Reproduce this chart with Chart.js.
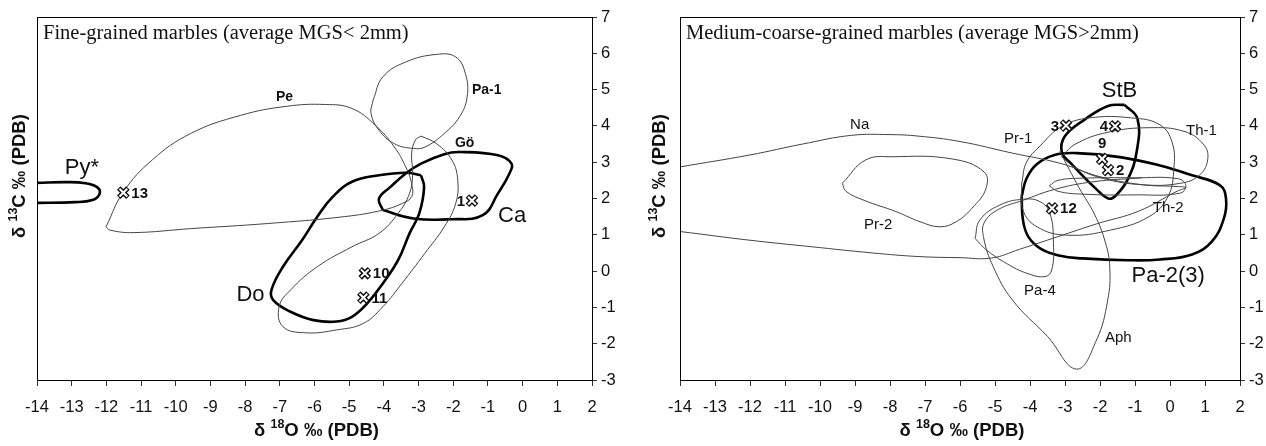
<!DOCTYPE html>
<html>
<head>
<meta charset="utf-8">
<script src="https://cdn.jsdelivr.net/npm/chart.js@4.4.1/dist/chart.umd.min.js"></script>
<style>
  html, body { margin: 0; padding: 0; background: #fff; }
  #wrap { display: flex; width: 1266px; height: 446px; }
  .panel { position: relative; width: 633px; height: 446px; }
</style>
</head>
<body>
<div id="wrap">
  <div class="panel"><canvas id="fine"></canvas></div>
  <div class="panel"><canvas id="coarse"></canvas></div>
</div>
<script>
// axis ranges (δ18O on x, δ13C on y)
const xRange = [-14, 2];
const yRange = [-3, 7];

// --- fine-grained marbles: outlines of the isotopic fields ---
const pyField = [[-14.6, 2.42], [-14, 2.43], [-13.2, 2.45], [-12.6, 2.42], [-12.25, 2.3], [-12.2, 2.12],
  [-12.4, 1.96], [-12.9, 1.9], [-14, 1.88], [-14.6, 1.88]];
const peField = [[-12.01, 1.22], [-11.51, 2.18], [-10.68, 3.06], [-9.57, 3.79], [-8.13, 4.29], [-6.8, 4.54],
  [-5.69, 4.59], [-4.92, 4.48], [-4.25, 4.02], [-3.7, 3.42], [-3.37, 2.87], [-3.2, 2.41], [-3.2, 2.05],
  [-3.48, 1.86], [-4.03, 1.68], [-5.14, 1.5], [-7.36, 1.31], [-9.57, 1.17], [-11.23, 1.06], [-11.9, 1.13]];
const pa1Field = [[-4.31, 4.71], [-4.03, 5.35], [-3.37, 5.76], [-2.48, 5.97], [-1.93, 5.9], [-1.65, 5.44],
  [-1.6, 4.8], [-1.82, 4.25], [-2.26, 3.79], [-2.81, 3.42], [-3.15, 3.38], [-3.7, 3.51], [-4.14, 3.88], [-4.37, 4.34]];
const goField = [[-2.93, 3.72], [-2.48, 3.51], [-2.04, 3.06], [-1.87, 2.5], [-1.93, 1.86], [-2.26, 1.22],
  [-2.82, 0.49], [-3.48, -0.34], [-4.03, -0.98], [-4.59, -1.44], [-5.36, -1.62], [-6.25, -1.7], [-6.91, -1.53],
  [-7.02, -0.98], [-6.69, -0.52], [-5.92, 0.12], [-4.92, 0.67], [-4.14, 1.04], [-3.59, 1.59], [-3.26, 2.14],
  [-3.17, 2.69], [-3.2, 3.24], [-3.09, 3.61]];
const caField = [[-4.03, 1.68], [-3.15, 1.45], [-2.04, 1.43], [-1.15, 1.54], [-0.71, 2.14], [-0.38, 2.69],
  [-0.32, 2.96], [-0.71, 3.19], [-1.82, 3.28], [-2.26, 3.22], [-2.93, 2.96], [-3.37, 2.69], [-3.81, 2.32], [-4.14, 2.0]];
const doField = [[-2.93, 2.64], [-2.84, 2.32], [-2.98, 1.59], [-3.26, 1.04], [-3.59, 0.3], [-4.03, -0.34],
  [-4.48, -0.89], [-4.92, -1.26], [-5.36, -1.39], [-6.03, -1.35], [-6.69, -1.12], [-7.19, -0.8], [-7.24, -0.52],
  [-6.91, 0.12], [-6.36, 0.85], [-5.92, 1.5], [-5.47, 2.05], [-4.92, 2.46], [-4.14, 2.64], [-3.37, 2.71]];

const fineSampleIds = ['13', '1', '10', '11'];
const fineSampleX = [-11.51, -1.46, -4.55, -4.59];
const fineSampleY = [2.16, 1.94, -0.06, -0.73];

// --- medium-coarse-grained marbles ---
const naField = [[-14.5, 2.78], [-14, 2.87], [-12, 3.2], [-10.5, 3.5], [-9.1, 3.74], [-8, 3.76], [-7.2, 3.72],
  [-6, 3.57], [-4.5, 3.25], [-3.14, 2.97], [-2, 2.6], [-0.8, 2.38], [0.2, 2.33], [0.45, 2.3], [0.2, 2.2],
  [-0.9, 1.65], [-2.1, 1.3], [-3.2, 0.95], [-4.3, 0.6], [-5.1, 0.36], [-6, 0.37], [-7.17, 0.4], [-8.5, 0.5],
  [-10.23, 0.67], [-12, 0.85], [-14, 1.09], [-14.5, 1.14]];
const pr2Field = [[-9.36, 2.42], [-8.7, 3.06], [-7.94, 3.15], [-6.23, 3.09], [-5.31, 2.73], [-5.26, 2.27],
  [-5.66, 1.73], [-6.11, 1.36], [-6.57, 1.22], [-7.14, 1.36], [-7.83, 1.64], [-8.74, 1.95], [-9.26, 2.2]];
const pr1Field = [[-4.24, 2.4], [-4.1, 3.0], [-3.71, 3.45], [-3.1, 3.98], [-2.3, 4.22], [-1.1, 4.22], [-0.29, 4.03],
  [0.06, 3.55], [0.11, 2.82], [-0.06, 2.05], [-0.6, 1.5], [-1.7, 1.13], [-2.95, 0.99], [-3.8, 1.22], [-4.2, 1.68]];
const th1Field = [[-3.1, 3.15], [-2.7, 3.5], [-1.8, 3.82], [-0.6, 3.95], [0.4, 3.85], [0.95, 3.5], [1.08, 3.1],
  [0.85, 2.65], [0.3, 2.42], [-0.8, 2.38], [-1.9, 2.55], [-2.7, 2.85]];
const th2Field = [[-3.45, 2.35], [-3.2, 2.5], [-2.5, 2.56], [-1, 2.57], [0.2, 2.55], [0.45, 2.38], [0.3, 2.15],
  [-1, 2.1], [-2.5, 2.12], [-3.2, 2.2]];
const pa4Field = [[-5.57, 0.9], [-5.43, 1.41], [-4.86, 1.82], [-4.19, 1.98], [-3.71, 1.91], [-3.43, 1.59],
  [-3.33, 0.77], [-3.38, 0.03], [-3.57, -0.15], [-4.09, -0.06], [-4.67, 0.21], [-5.24, 0.58]];
const aphField = [[-0.8, 2.57], [-2.2, 2.46], [-3.3, 2.25], [-4.2, 1.95], [-4.9, 1.7], [-5.3, 1.35], [-5.33, 0.95],
  [-5.05, 0.12], [-4.5, -0.8], [-3.5, -1.8], [-2.67, -2.7], [-2.1, -1.9], [-1.78, -0.8], [-1.72, 0.1],
  [-1.85, 0.8], [-2.15, 1.55], [-2.6, 2.3], [-3.15, 3.3]];
const stbField = [[-1.3, 4.58], [-0.93, 4.2], [-0.95, 3.3], [-1.2, 2.54], [-1.54, 2.09], [-1.76, 2.0], [-2.15, 2.3],
  [-2.81, 2.95], [-3.09, 3.27], [-3.0, 3.72], [-2.43, 4.18], [-1.77, 4.55]];
const pa23Field = [[-4.24, 2.05], [-4.2, 1.4], [-4.05, 0.95], [-3.7, 0.62], [-3.14, 0.42], [-2.5, 0.35], [-1.2, 0.3],
  [-0.29, 0.32], [0.63, 0.46], [1.2, 0.82], [1.54, 1.45], [1.6, 2.0], [1.43, 2.36], [0.63, 2.64], [-0.29, 2.91],
  [-1.43, 3.14], [-2.67, 3.25], [-3.3, 3.2], [-3.8, 2.95], [-4.1, 2.55]];

const coarseSampleIds = ['3', '4', '9', '2', '12'];
const coarseSampleX = [-2.97, -1.57, -1.94, -1.77, -3.37];
const coarseSampleY = [4.01, 3.99, 3.09, 2.78, 1.73];

// text notes (name, anchor in data units, kind)
const fineNotes = [
  ['Py*', -13.2, 2.84, 'big'], ['Pe', -7.11, 4.78, 'bold'], ['Pa-1', -1.46, 4.98, 'bold'],
  ['Gö', -1.95, 3.53, 'bold'], ['Ca', -0.71, 1.51, 'big'], ['Do', -8.25, -0.66, 'big']
];
const fineIdSide = ['right', 'left', 'right', 'right'];
const coarseNotes = [
  ['Na', -9.14, 4.03, 'plain'], ['Pr-1', -4.74, 3.64, 'plain'], ['Pr-2', -8.74, 1.27, 'plain'],
  ['Th-1', 0.46, 3.87, 'plain'], ['Th-2', -0.49, 1.73, 'plain'], ['Pa-4', -4.17, -0.54, 'plain'],
  ['Aph', -1.86, -1.85, 'plain'], ['StB', -1.95, 4.95, 'big'], ['Pa-2(3)', -1.1, -0.12, 'big']
];
const coarseIdSide = ['left', 'left', 'above', 'right', 'right'];

const sans = '"Liberation Sans", Arial, sans-serif';
const fonts = {
  big: '22px ' + sans,
  bold: 'bold 14px ' + sans,
  plain: '15px ' + sans,
  id: 'bold 15px ' + sans
};

function pts(list, close) {
  const out = list.map(p => ({ x: p[0], y: p[1] }));
  if (close) out.push({ x: list[0][0], y: list[0][1] });
  return out;
}

function outline(list, thick, close) {
  return {
    data: pts(list, close),
    showLine: true,
    borderColor: thick ? '#000' : '#444',
    borderWidth: thick ? 2.6 : 1,
    pointRadius: 0,
    tension: 0.42,
    order: 3
  };
}

function sampleSets(xs, ys) {
  const data = xs.map((x, i) => ({ x: x, y: ys[i] }));
  return [
    { data: data, pointStyle: 'crossRot', pointRadius: 6.5, pointBorderWidth: 5, pointBorderColor: '#111',
      pointBackgroundColor: '#111', showLine: false, order: 1 },
    { data: data, pointStyle: 'crossRot', pointRadius: 5.5, pointBorderWidth: 2, pointBorderColor: '#fff',
      pointBackgroundColor: '#fff', showLine: false, order: 0 }
  ];
}

// "δ ¹³C ‰ (PDB)" with a raised, smaller isotope number
function isoTitle(ctx, mass, elem, cx, cy, rotate) {
  const big = 'bold 18.5px ' + sans, small = 'bold 12.5px ' + sans;
  const parts = [['δ ', big, 0], [mass, small, -6], [elem + ' ‰ (PDB)', big, 0]];
  let total = 0;
  parts.forEach(p => { ctx.font = p[1]; total += ctx.measureText(p[0]).width; });
  ctx.save();
  ctx.translate(cx, cy);
  if (rotate) ctx.rotate(-Math.PI / 2);
  ctx.textAlign = 'left';
  ctx.textBaseline = 'middle';
  let pos = -total / 2;
  parts.forEach(p => {
    ctx.font = p[1];
    ctx.fillText(p[0], pos, p[2]);
    pos += ctx.measureText(p[0]).width;
  });
  ctx.restore();
}

// draws frame, axis titles, panel heading, field names and sample numbers
const notesPlugin = {
  id: 'notes',
  afterDatasetsDraw(chart, args, opts) {
    const { ctx, chartArea: a, scales: { x, y } } = chart;
    ctx.save();
    ctx.strokeStyle = '#000';
    ctx.lineWidth = 1;
    ctx.strokeRect(a.left + 0.5, a.top + 0.5, a.right - a.left, a.bottom - a.top);

    ctx.fillStyle = '#111';
    isoTitle(ctx, '18', 'O', (a.left + a.right) / 2 + 2, 431, false);
    isoTitle(ctx, '13', 'C', opts.yTitleX, 176, true);

    ctx.textBaseline = 'middle';
    ctx.textAlign = 'left';
    ctx.font = '20.5px "Liberation Serif", "Times New Roman", serif';
    ctx.fillText(opts.heading, a.left + 6, a.top + 17);

    opts.notes.forEach(n => {
      ctx.font = fonts[n[3]];
      ctx.fillText(n[0], x.getPixelForValue(n[1]), y.getPixelForValue(n[2]));
    });

    ctx.font = fonts.id;
    opts.ids.forEach((id, i) => {
      const px = x.getPixelForValue(opts.xs[i]);
      const py = y.getPixelForValue(opts.ys[i]);
      const side = opts.sides[i];
      if (side === 'right') {
        ctx.textAlign = 'left';
        ctx.fillText(id, px + 8, py + 1);
      } else if (side === 'left') {
        ctx.textAlign = 'right';
        ctx.fillText(id, px - 7, py + 1);
      } else {
        ctx.textAlign = 'center';
        ctx.fillText(id, px, py - 15);
      }
    });
    ctx.restore();
  }
};

function makePanel(id, heading, fields, ids, xs, ys, sides, notes, leftW, rightW, yTitleX) {
  const datasets = fields.map(f => outline(f[0], f[1], f[2])).concat(sampleSets(xs, ys));
  const tickFont = { family: sans, size: 16.5 };
  return new Chart(document.getElementById(id), {
    type: 'scatter',
    data: { datasets: datasets },
    options: {
      responsive: true,
      maintainAspectRatio: false,
      animation: false,
      layout: { padding: { top: 17, left: leftW, right: 0, bottom: 0 } },
      plugins: {
        legend: { display: false },
        tooltip: { enabled: false },
        notes: { heading: heading, notes: notes, ids: ids, xs: xs, ys: ys, sides: sides, yTitleX: yTitleX }
      },
      scales: {
        x: {
          type: 'linear', position: 'bottom', min: xRange[0], max: xRange[1],
          ticks: { stepSize: 1, color: '#111', font: tickFont, padding: 12, maxRotation: 0, autoSkip: false },
          grid: { drawOnChartArea: false, tickLength: 6, color: '#333' },
          border: { color: '#000' },
          afterFit: s => { s.height = 66; }
        },
        y: {
          type: 'linear', position: 'right', min: yRange[0], max: yRange[1],
          ticks: { stepSize: 1, color: '#111', font: tickFont, padding: 4 },
          grid: { drawOnChartArea: false, tickLength: 5, color: '#333' },
          border: { color: '#000' },
          afterFit: s => { s.width = rightW; }
        }
      }
    },
    plugins: [notesPlugin]
  });
}

makePanel('fine', 'Fine-grained marbles (average MGS< 2mm)',
  [[pyField, true, false], [peField, false, true], [pa1Field, false, true], [goField, false, true],
   [caField, true, true], [doField, true, true]],
  fineSampleIds, fineSampleX, fineSampleY, fineIdSide, fineNotes, 37, 41, 20);

makePanel('coarse', 'Medium-coarse-grained marbles (average MGS>2mm)',
  [[naField, false, false], [pr2Field, false, true], [pr1Field, false, true], [th1Field, false, true],
   [th2Field, false, true], [pa4Field, false, true], [aphField, false, false], [stbField, true, true],
   [pa23Field, true, true]],
  coarseSampleIds, coarseSampleX, coarseSampleY, coarseIdSide, coarseNotes, 47, 26, 27);
</script>
</body>
</html>
